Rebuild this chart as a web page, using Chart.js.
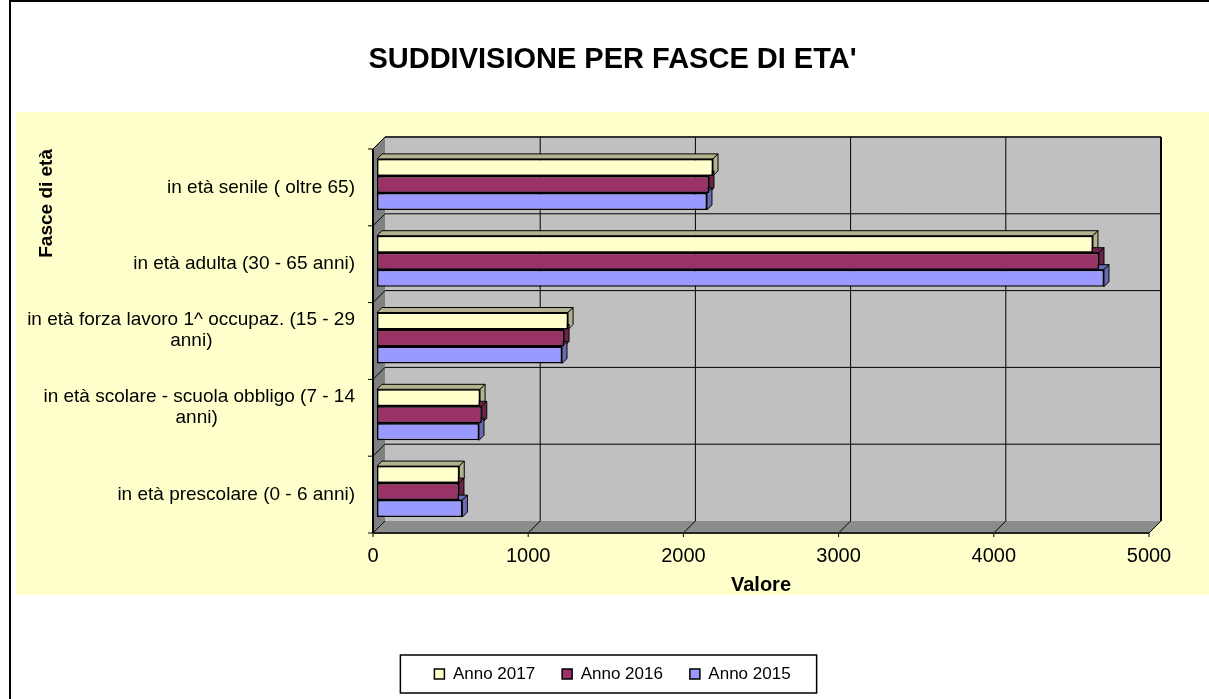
<!DOCTYPE html>
<html>
<head>
<meta charset="utf-8">
<script src="https://cdn.jsdelivr.net/npm/chart.js@4.4.1/dist/chart.umd.min.js"></script>
<style>
  html, body { margin: 0; padding: 0; background: #fff; }
  #wrap { width: 1209px; height: 699px; }
</style>
</head>
<body>
<div id="wrap"><canvas id="age-chart" width="1209" height="699"></canvas></div>
<script>
const categories = [
  "in età senile ( oltre 65)",
  "in età adulta (30 - 65 anni)",
  ["in età forza lavoro 1^ occupaz. (15 - 29", "anni)"],
  ["in età scolare - scuola obbligo (7 - 14", "anni)"],
  "in età prescolare (0 - 6 anni)",
];
const seriesNames = ["Anno 2017", "Anno 2016", "Anno 2015"];
const values2017 = [2165, 4613, 1231, 664, 530];
const values2016 = [2139, 4652, 1205, 675, 528];
const values2015 = [2126, 4684, 1192, 657, 550];
const valueTicks = [0, 1000, 2000, 3000, 4000, 5000];

const FONT = "'Liberation Sans', Arial, sans-serif";
const frontColors = ["#FFFFCC", "#993366", "#9999FF"];
const sideColors = ["#B3B38F", "#6B2447", "#6B6BB3"];

// fake 3D offsets (back wall, bar depth, bar shift into the box)
const DX = 12, DY = -12, BAR_D = 5;
const BAR_SHIFT_X = 4, BAR_SHIFT_Y = -3;

function poly(ctx, pts, fill, stroke) {
  ctx.beginPath();
  ctx.moveTo(pts[0][0], pts[0][1]);
  for (let i = 1; i < pts.length; i++) ctx.lineTo(pts[i][0], pts[i][1]);
  ctx.closePath();
  if (fill) { ctx.fillStyle = fill; ctx.fill(); }
  if (stroke) { ctx.strokeStyle = stroke; ctx.lineWidth = 1; ctx.stroke(); }
}

function line(ctx, x1, y1, x2, y2, color, w) {
  ctx.beginPath();
  ctx.moveTo(x1, y1);
  ctx.lineTo(x2, y2);
  ctx.strokeStyle = color;
  ctx.lineWidth = w || 1;
  ctx.stroke();
}

const depthPlugin = {
  id: "depth3d",
  beforeDraw(chart) {
    const ctx = chart.ctx;
    ctx.save();
    ctx.fillStyle = "#fff";
    ctx.fillRect(0, 0, chart.width, chart.height);
    ctx.fillStyle = "#FFFFCC";
    ctx.fillRect(16, 112, chart.width - 16, 483);
    ctx.beginPath();
    ctx.moveTo(10, chart.height);
    ctx.lineTo(10, 1);
    ctx.lineTo(chart.width, 1);
    ctx.strokeStyle = "#000";
    ctx.lineWidth = 2;
    ctx.stroke();
    ctx.restore();
  },
  beforeDatasetsDraw(chart) {
    const { ctx, chartArea: a, scales: { x, y } } = chart;
    ctx.save();
    // walls
    ctx.fillStyle = "#C0C0C0";
    ctx.fillRect(a.left + DX, a.top + DY, a.width, a.height);
    poly(ctx, [[a.left, a.top], [a.left + DX, a.top + DY], [a.left + DX, a.bottom + DY], [a.left, a.bottom]], "#808080");
    poly(ctx, [[a.left, a.bottom], [a.left + DX, a.bottom + DY], [a.right + DX, a.bottom + DY], [a.right, a.bottom]], "#8C8C8C");
    line(ctx, a.left + DX, a.top + DY, a.right + DX, a.top + DY, "#333", 2);
    line(ctx, a.right + DX, a.top + DY, a.right + DX, a.bottom + DY, "#000", 2);

    // value grid on back wall + floor
    valueTicks.forEach((v) => {
      const px = x.getPixelForValue(v);
      if (v > valueTicks[0] && v < valueTicks[valueTicks.length - 1]) {
        line(ctx, px + DX, a.top + DY, px + DX, a.bottom + DY, "#000", 1);
      }
      line(ctx, px, a.bottom, px + DX, a.bottom + DY, "#000", 1);
      line(ctx, px, a.bottom, px, a.bottom + 4, "#000", 1);
    });

    // category grid on back wall + left wall
    for (let i = 0; i <= categories.length; i++) {
      const yb = y.getPixelForValue(i - 0.5);
      if (i > 0 && i < categories.length) {
        line(ctx, a.left + DX, yb + DY, a.right + DX, yb + DY, "#000", 1);
      }
      line(ctx, a.left, yb, a.left + DX, yb + DY, "#000", 1);
      line(ctx, a.left - 5, yb, a.left, yb, "#000", 1);
    }

    // front axis lines
    line(ctx, a.left, a.top, a.left, a.bottom, "#000", 2);
    line(ctx, a.left, a.bottom, a.right, a.bottom, "#222", 2);

    // bars sit a little inside the box
    ctx.translate(BAR_SHIFT_X, BAR_SHIFT_Y);

    // bar top and right faces
    chart.data.datasets.forEach((ds, i) => {
      const meta = chart.getDatasetMeta(i);
      meta.data.forEach((bar) => {
        const p = bar.getProps(["x", "y", "base", "height"], true);
        const top = p.y - p.height / 2, bot = p.y + p.height / 2;
        poly(ctx, [[p.base, top], [p.base + BAR_D, top - BAR_D], [p.x + BAR_D, top - BAR_D], [p.x, top]], sideColors[i], "#000");
        poly(ctx, [[p.x, top], [p.x + BAR_D, top - BAR_D], [p.x + BAR_D, bot - BAR_D], [p.x, bot]], sideColors[i], "#000");
      });
    });
    // keep the translate for the front faces; undone in afterDatasetsDraw
  },
  afterDatasetsDraw(chart) {
    chart.ctx.restore();
  },
  afterDraw(chart) {
    const hb = chart.legend.legendHitBoxes;
    if (!hb || !hb.length) return;
    const ctx = chart.ctx;
    const l = Math.min(...hb.map((h) => h.left)) - 34;
    const r = Math.max(...hb.map((h) => h.left + h.width)) + 26;
    const t = hb[0].top - 10.5;
    const b = hb[0].top + hb[0].height + 10.5;
    ctx.save();
    ctx.strokeStyle = "#000";
    ctx.lineWidth = 1.5;
    ctx.strokeRect(l, t, r - l, b - t);
    ctx.restore();
  },
};

const seriesValues = [values2017, values2016, values2015];

const chartData = {
  labels: categories,
  datasets: seriesNames.map((name, i) => ({
    label: name,
    data: seriesValues[i],
    backgroundColor: frontColors[i],
    borderColor: "#000",
    borderWidth: 1.5,
    borderSkipped: false,
    barPercentage: 1,
    categoryPercentage: 0.664,
  })),
};

const config = {
  type: "bar",
  data: chartData,
  plugins: [depthPlugin],
  options: {
    indexAxis: "y",
    responsive: false,
    animation: false,
    layout: { padding: { left: 16, right: 0, top: 0, bottom: 6.5 } },
    plugins: {
      title: {
        display: true,
        text: "SUDDIVISIONE PER FASCE DI ETA'",
        color: "#000",
        font: { family: FONT, size: 29, weight: "bold" },
        padding: { top: 42.6, bottom: 71.6 },
      },
      legend: {
        position: "bottom",
        labels: {
          color: "#000",
          boxWidth: 10,
          boxHeight: 10,
          padding: 27,
          font: { family: FONT, size: 17 },
        },
      },
      tooltip: { enabled: false },
    },
    scales: {
      x: {
        type: "linear",
        position: "bottom",
        min: valueTicks[0],
        max: valueTicks[valueTicks.length - 1],
        grid: { display: false, drawTicks: false },
        border: { display: false },
        ticks: {
          stepSize: valueTicks[1] - valueTicks[0],
          color: "#000",
          padding: 11,
          font: { family: FONT, size: 20 },
          callback: (v) => String(v),
        },
        title: {
          display: true,
          text: "Valore",
          color: "#000",
          font: { family: FONT, size: 20, weight: "bold" },
          padding: { top: 0, bottom: 41.5 },
        },
        afterFit(scale) { scale.height = 105.5; },
      },
      y: {
        type: "category",
        position: "left",
        grid: { display: false, drawTicks: false },
        border: { display: false },
        ticks: {
          color: "#000",
          padding: 18,
          font: { family: FONT, size: 19, lineHeight: 1.1 },
          callback(value) {
            const label = this.getLabelForValue(value);
            if (!Array.isArray(label)) return label;
            // centre the wrapped lines under the first one, block sits a bit high
            const ctx = this.chart.ctx;
            ctx.save();
            ctx.font = "19px " + FONT;
            const w0 = ctx.measureText(label[0]).width;
            const sp = ctx.measureText(" ").width;
            const out = label.map((ln, i) => {
              if (i === 0) return ln;
              const n = Math.max(0, Math.round((w0 - ctx.measureText(ln).width) / 2 / sp));
              return ln + " ".repeat(n);
            });
            ctx.restore();
            out.push("");
            return out;
          },
        },
        title: {
          display: true,
          text: "Fasce di età",
          align: "end",
          color: "#000",
          font: { family: FONT, size: 19, weight: "bold" },
          padding: { top: 19.6, bottom: 0 },
        },
        afterFit(scale) { scale.width = 357; },
      },
      yRight: {
        type: "linear",
        position: "right",
        grid: { display: false, drawTicks: false },
        border: { display: false },
        ticks: { display: false },
        afterFit(scale) { scale.width = 60; },
      },
    },
  },
};

const chart = new Chart(document.getElementById("age-chart").getContext("2d"), config);
</script>
</body>
</html>
